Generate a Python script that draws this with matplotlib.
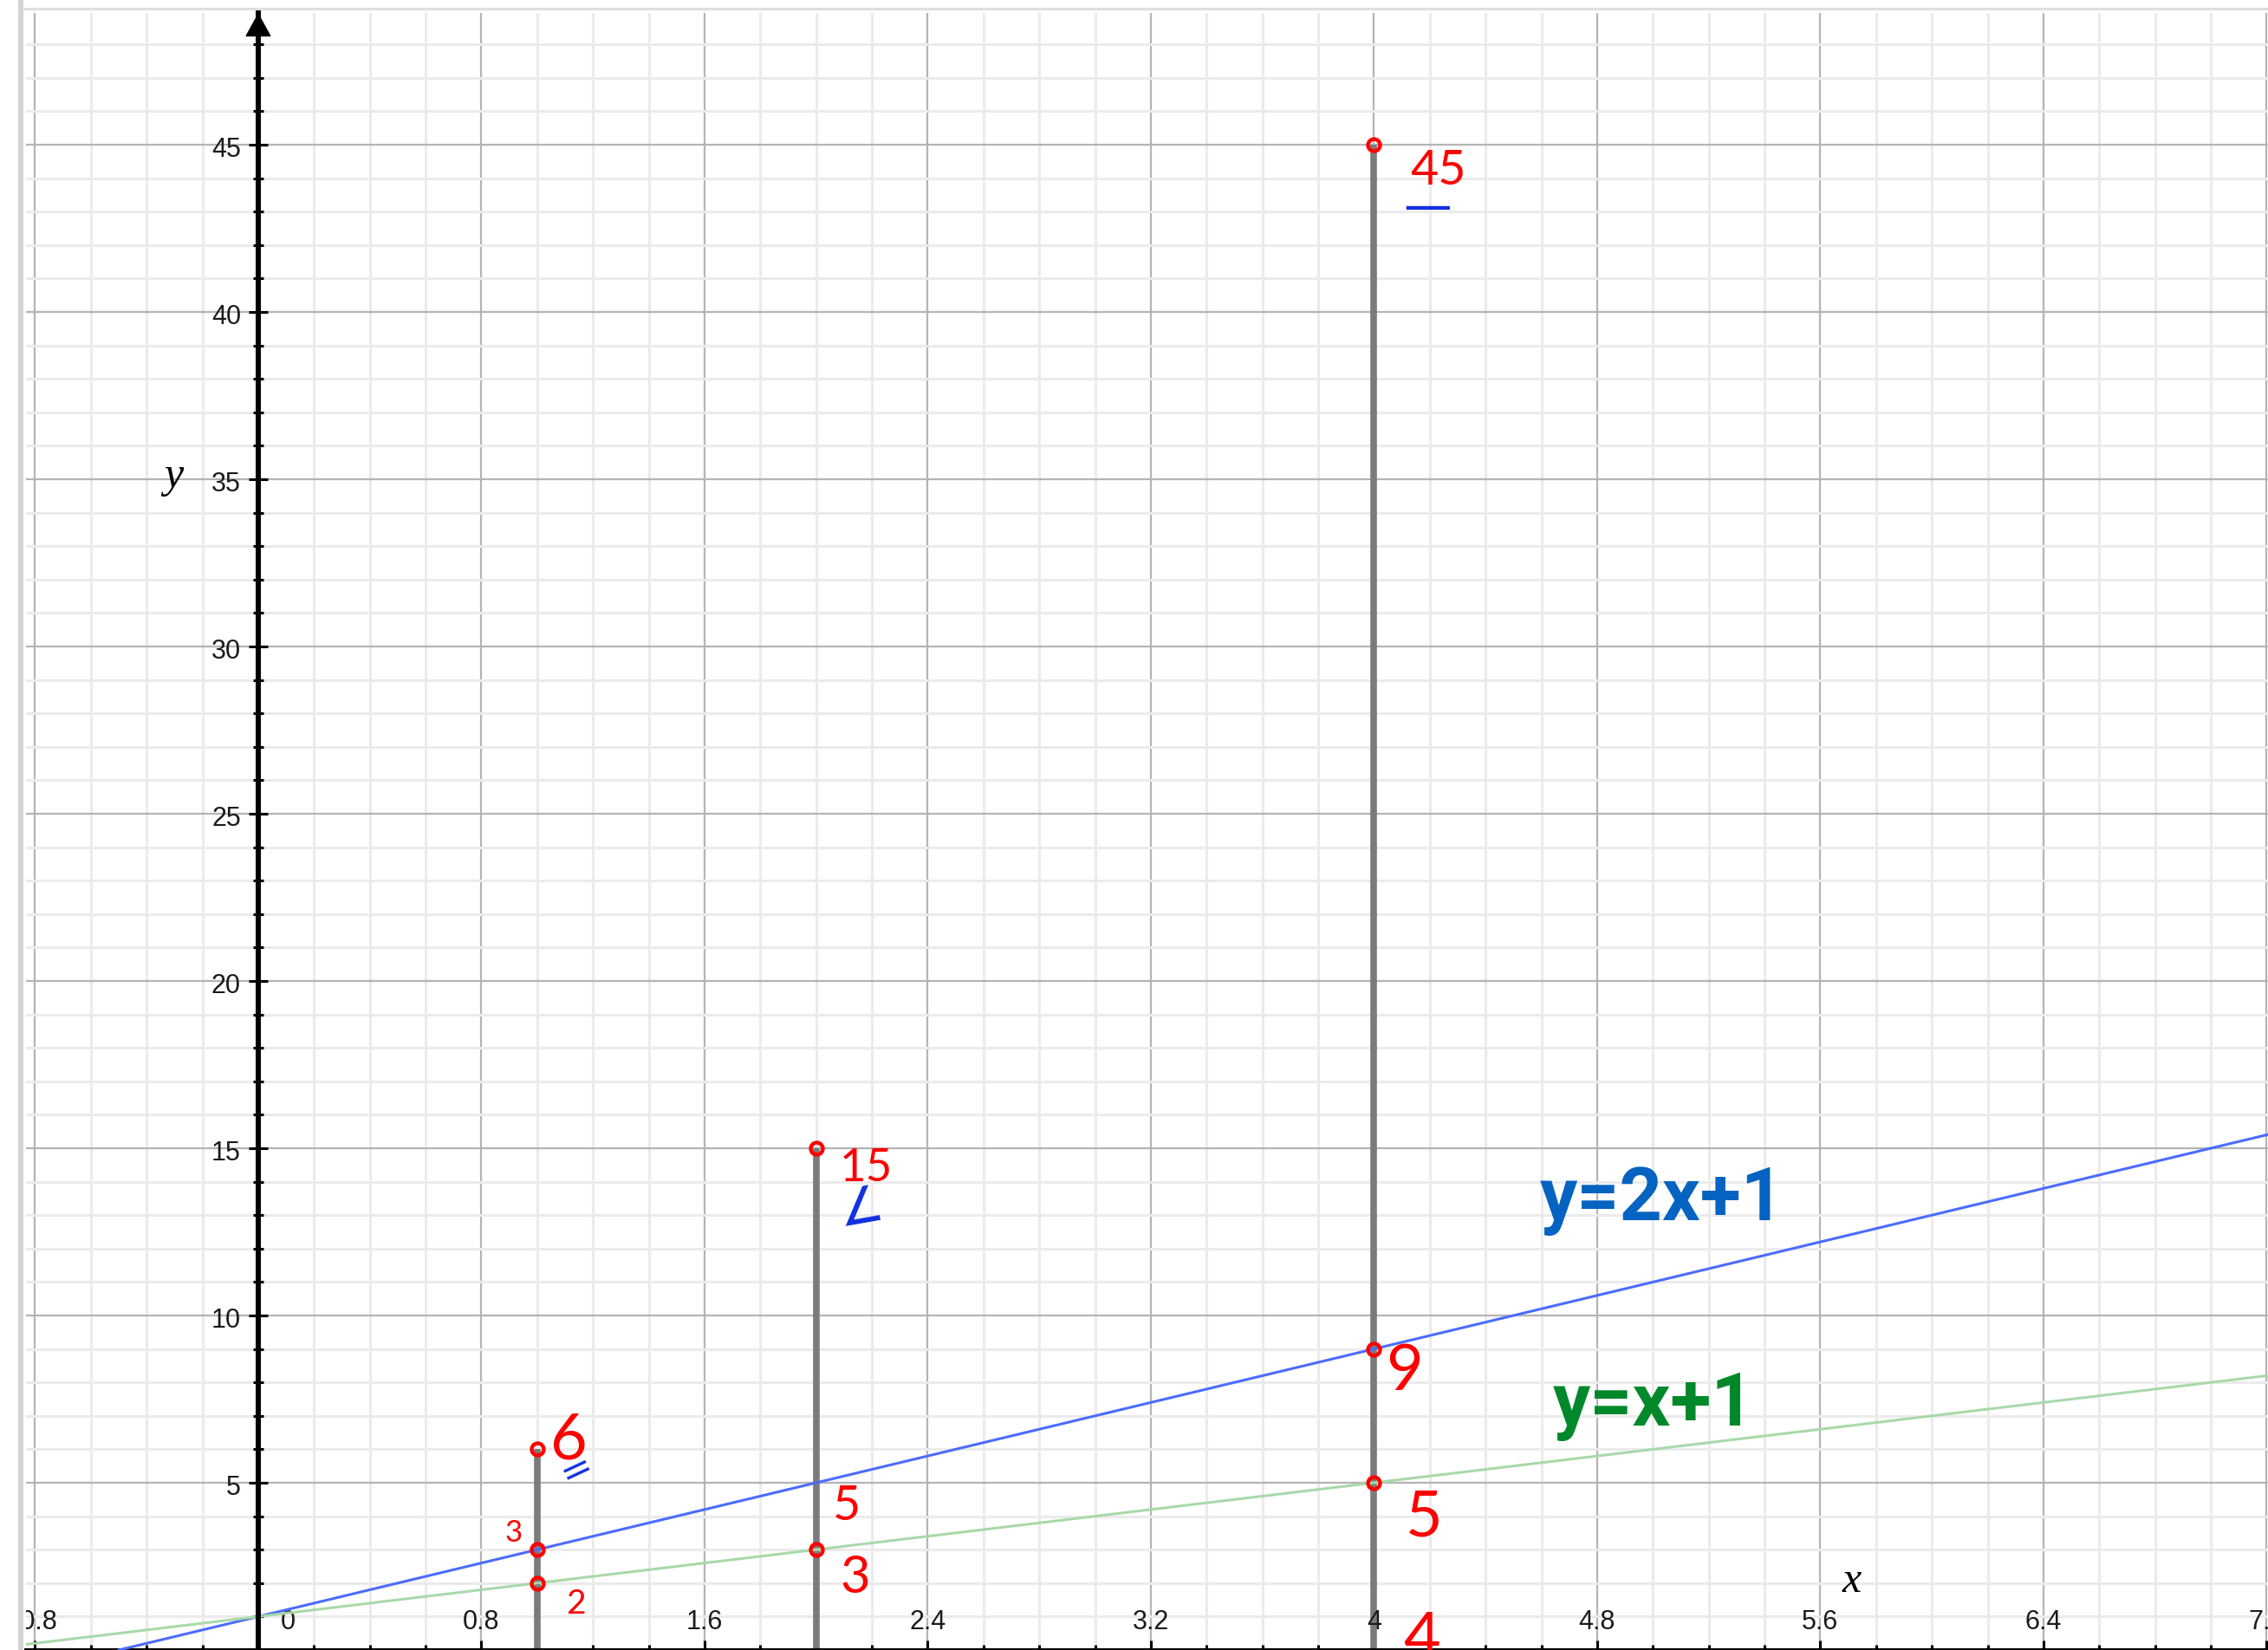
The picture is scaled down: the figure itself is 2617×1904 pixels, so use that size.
import matplotlib
matplotlib.use('Agg')
import matplotlib.pyplot as plt
from matplotlib.lines import Line2D
from matplotlib.ticker import MultipleLocator
from matplotlib.transforms import ScaledTranslation

# lines y = m*x + b
slopes = [2, 1]
intercepts = [1, 1]
line_names = ['y=2x+1', 'y=x+1']

# vertical bars and the marked points
bar_x = [1, 2, 4]
bar_top = [6, 15, 45]
point_x = [1, 1, 1, 2, 2, 4, 4, 4]
point_y = [6, 3, 2, 15, 3, 45, 9, 5]

# handwritten notes
note_text = ['6', '3', '2', '15', '5', '3', '45', '9', '5', '4']
mark_text = ['=', '∠', '—']

x_tick_vals = [-0.8, 0, 0.8, 1.6, 2.4, 3.2, 4, 4.8, 5.6, 6.4, 7.2]
x_tick_labels = ['-0.8', '0', '0.8', '1.6', '2.4', '3.2', '4', '4.8', '5.6', '6.4', '7.2']
y_tick_vals = [5, 10, 15, 20, 25, 30, 35, 40, 45]
y_tick_labels = ['5', '10', '15', '20', '25', '30', '35', '40', '45']

W, H = 2617, 1904
fig = plt.figure(figsize=(W / 100, H / 100), dpi=100)
left = 30 / W
top = 15 / H
ax = fig.add_axes([left, 0, 1 - left, 1 - top])
ax.set_xlim(-0.8326, 7.205)
ax.set_ylim(0, 48.94)

def px(dx, dy):
    return ax.transData + ScaledTranslation(dx / 100, dy / 100, fig.dpi_scale_trans)

# grid
ax.xaxis.set_major_locator(MultipleLocator(0.8))
ax.xaxis.set_minor_locator(MultipleLocator(0.2))
ax.yaxis.set_major_locator(MultipleLocator(5))
ax.yaxis.set_minor_locator(MultipleLocator(1))
ax.set_axisbelow(True)
ax.grid(which='minor', color='#ebebeb', lw=2.2)
ax.grid(which='major', color='#b4b4b4', lw=1.6)

# axes through the origin
for s in ['top', 'right']:
    ax.spines[s].set_visible(False)
ax.spines['left'].set_position(('data', 0))
ax.spines['left'].set_linewidth(4.3)
ax.spines['bottom'].set_linewidth(3.6)
ax.spines['left'].set_zorder(4)
ax.tick_params(which='both', direction='inout', width=2.2, color='black',
               labelbottom=False, labelleft=False)
ax.tick_params(which='major', length=15.8)
ax.tick_params(which='minor', length=8.6)
ax.annotate('', xy=(0, 48.94), xytext=(0, 46.5),
            arrowprops=dict(arrowstyle='-|>,head_length=0.4,head_width=0.22',
                            color='black', lw=1, mutation_scale=45,
                            shrinkA=0, shrinkB=0), zorder=5)

for v, lab in zip(x_tick_vals, x_tick_labels):
    dx = 34 if v == 0 else 0
    ax.text(v, 0, lab, transform=px(dx, 24), ha='center', va='baseline',
            fontsize=22, family='Liberation Sans', color='#1a1a1a', clip_on=True)
for v, lab in zip(y_tick_vals, y_tick_labels):
    ax.text(0, v, lab, transform=px(-20, -6), ha='right', va='center',
            fontsize=22, family='Liberation Sans', color='#1a1a1a')

ax.text(-0.304, 34.77, 'y', fontsize=36, family='Liberation Serif',
        style='italic', ha='center', va='baseline')
ax.text(5.713, 1.74, 'x', fontsize=36, family='Liberation Serif',
        style='italic', ha='center', va='baseline')

# functions
line_colors = ['#4a6cff', '#a9d9a9']
for m, b, c in zip(slopes, intercepts, line_colors):
    ax.axline((0, b), slope=m, color=c, lw=2.2, zorder=3)

ax.vlines(bar_x, 0, bar_top, color='#7b7b7b', lw=5.5, zorder=2)
ax.plot(point_x, point_y, 'o', ms=10, mfc='none', mec='#ff0000', mew=3.2, zorder=6)

# equation labels
ax.text(4.595, 12.85, line_names[0], color='#0563c1', fontsize=62,
        family='Roboto', weight='bold', va='baseline')
ax.text(4.64, 6.71, line_names[1], color='#00882b', fontsize=62,
        family='Roboto', weight='bold', va='baseline')

# handwritten notes
note_xy = [(1.115, 6.24), (0.915, 3.5), (1.14, 1.37), (2.18, 14.4), (2.11, 4.3),
           (2.14, 2.15), (4.23, 44.2), (4.11, 8.3), (4.18, 3.95), (4.17, 0.3)]
note_size = [53, 25, 28, 38, 40, 43, 40, 53, 53, 53]
for t, (x, y), s in zip(note_text, note_xy, note_size):
    ax.text(x, y, t, color='#ff0000', fontsize=s, family='Lato',
            ha='center', va='center', clip_on=True, zorder=7)

mark_xy = [(1.14, 5.4), (2.16, 13.2), (4.19, 43.1)]
mark_size = [32, 42, 40]
mark_rot = [25, 10, 0]
for t, (x, y), s, r in zip(mark_text, mark_xy, mark_size, mark_rot):
    ax.text(x, y, t, color='#1030e0', fontsize=s, rotation=r,
            ha='center', va='center', zorder=7)

# window frame
fig.add_artist(Line2D([24 / W, 24 / W], [0, 1], color='#d4d4d4', lw=4.3))
fig.add_artist(Line2D([27 / W, 1], [1 - 10 / H, 1 - 10 / H], color='#dedede', lw=2.2))

fig.savefig('out.png', dpi=100, facecolor='white')
